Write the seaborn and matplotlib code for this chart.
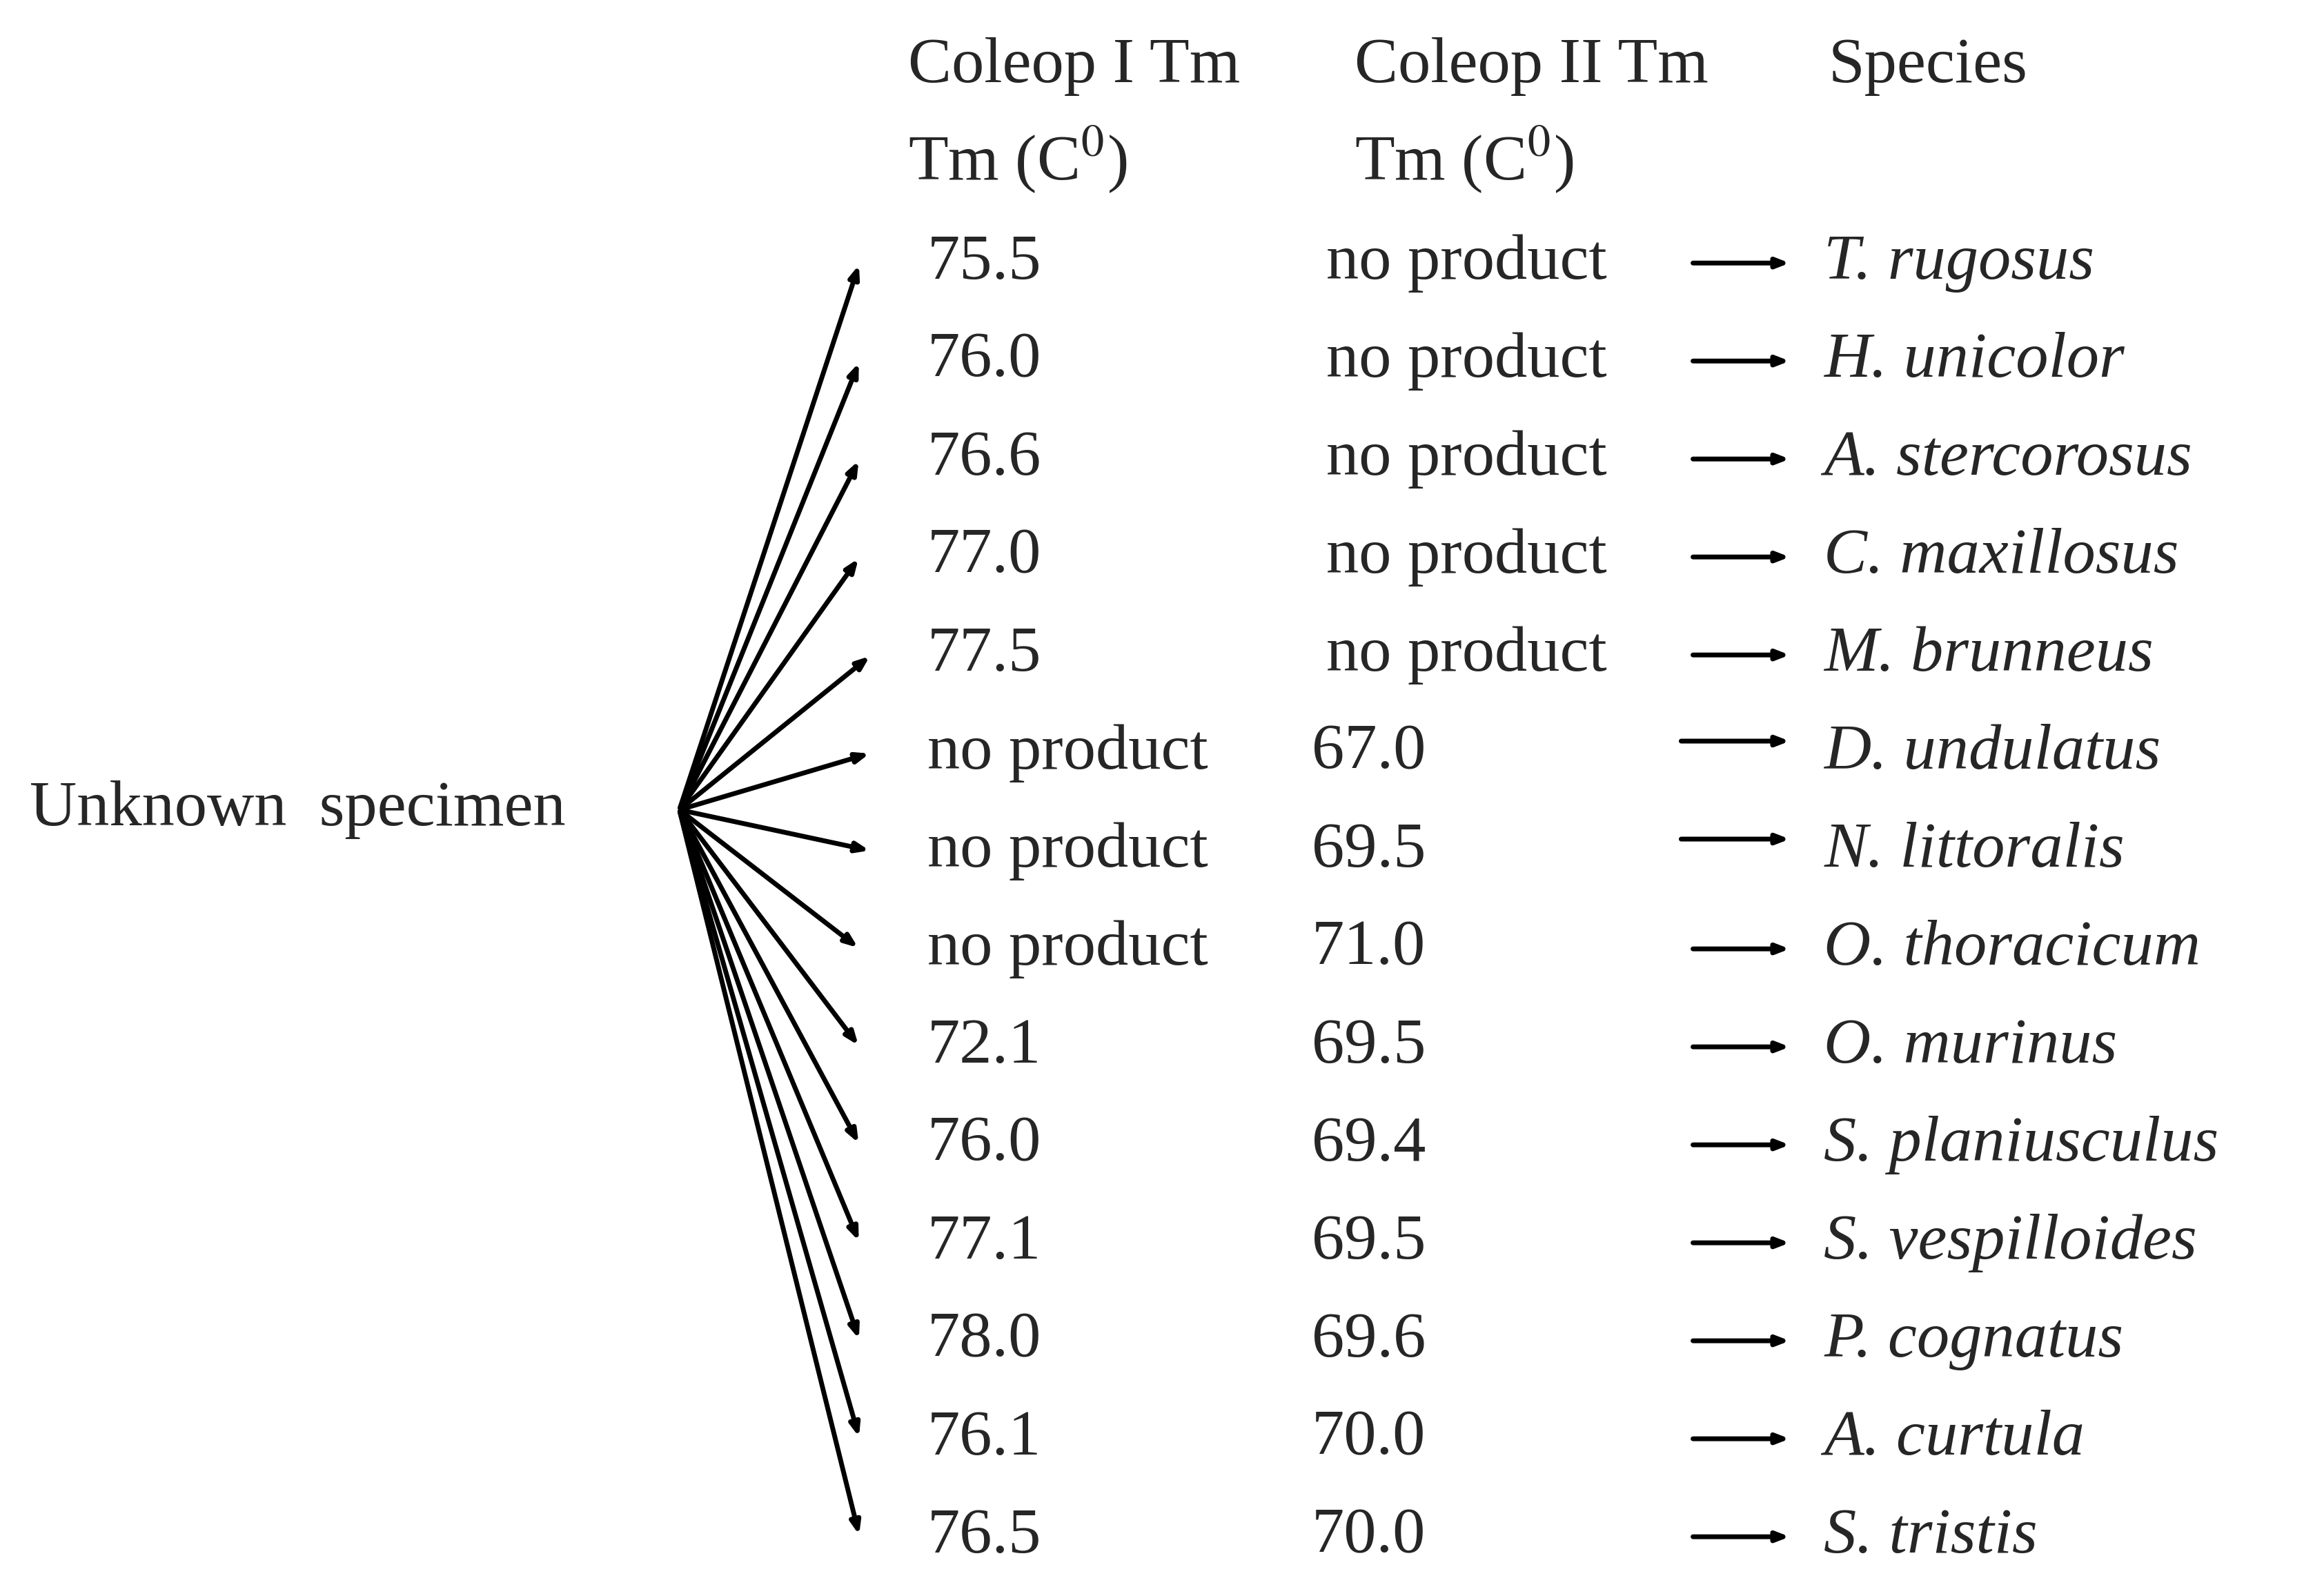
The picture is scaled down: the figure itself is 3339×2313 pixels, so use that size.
import matplotlib
matplotlib.use("Agg")
import matplotlib.pyplot as plt
import seaborn as sns

sns.set_theme(style="white")
plt.rcParams['font.family'] = ['Liberation Serif', 'DejaVu Serif']
plt.rcParams['mathtext.fontset'] = 'stix'

coleop1 = ["75.5", "76.0", "76.6", "77.0", "77.5", "no product", "no product",
           "no product", "72.1", "76.0", "77.1", "78.0", "76.1", "76.5"]
coleop2 = ["no product", "no product", "no product", "no product", "no product",
           "67.0", "69.5", "71.0", "69.5", "69.4", "69.5", "69.6", "70.0", "70.0"]
species = ["T. rugosus", "H. unicolor", "A. stercorosus", "C. maxillosus",
           "M. brunneus", "D. undulatus", "N. littoralis", "O. thoracicum",
           "O. murinus", "S. planiusculus", "S. vespilloides", "P. cognatus",
           "A. curtula", "S. tristis"]
headers1 = ["Coleop I Tm", "Coleop II Tm", "Species"]
headers2 = ["Tm (C$^{0}$)", "Tm (C$^{0}$)", ""]

fig = plt.figure(figsize=(33.39, 23.13), dpi=100)
ax = fig.add_axes([0, 0, 1, 1])
ax.set_xlim(0, 1560)
ax.set_ylim(1080, 0)
ax.axis("off")

fs = 68
y0, dy = 178, 66.3
hx = [615, 917, 1238]
for x, h1, h2 in zip(hx, headers1, headers2):
    ax.text(x, 45, h1, fontsize=fs, va="center", ha="left")
    ax.text(x, 108, h2, fontsize=fs, va="center", ha="left")

ax.text(20, 548, "Unknown  specimen", fontsize=fs, va="center", ha="left")

akw = dict(arrowstyle="-|>,head_length=0.9,head_width=0.35", color="black", lw=5)
for i, (c1, c2, sp) in enumerate(zip(coleop1, coleop2, species)):
    y = y0 + i * dy
    ax.text(628, y, c1, fontsize=fs, va="center", ha="left")
    c2x = 898 if c2 == "no product" else 888
    ax.text(c2x, y, c2, fontsize=fs, va="center", ha="left")
    ax.text(1235, y, sp, fontsize=fs, va="center", ha="left", style="italic")
    # fan arrow from specimen
    tipx = 590 if 4 <= i <= 6 else 582
    ax.annotate("", xy=(tipx, y), xytext=(460, 548), arrowprops=akw)
    # arrow to species
    sx = 1137 if c2 != "no product" and i < 7 else 1145
    ay = y - 8 if 5 <= i <= 6 else y
    ax.annotate("", xy=(1213, ay), xytext=(sx, ay), arrowprops=akw)

fig.savefig("out.png", dpi=100, facecolor="white")
